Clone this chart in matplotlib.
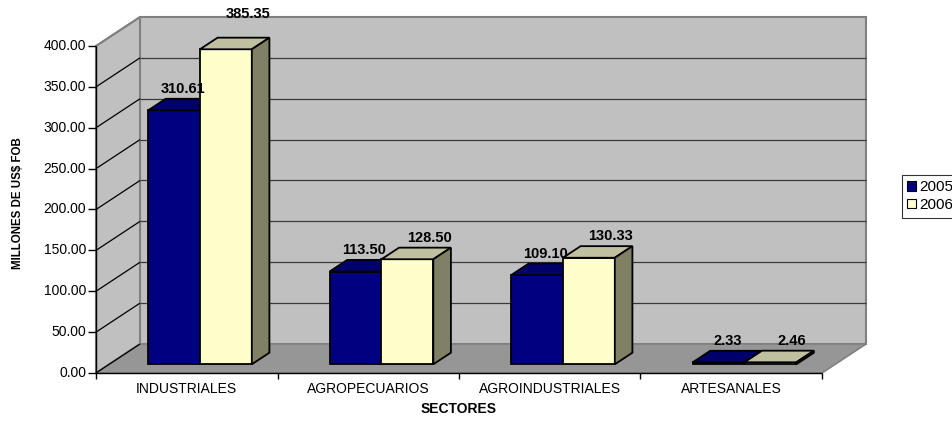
import matplotlib
matplotlib.use('Agg')
import matplotlib.pyplot as plt
from matplotlib.patches import Polygon, Patch
from matplotlib.transforms import IdentityTransform

plt.rcParams['font.family'] = ['Liberation Sans', 'DejaVu Sans']

# ---------------- data ----------------
categories = ['INDUSTRIALES', 'AGROPECUARIOS', 'AGROINDUSTRIALES', 'ARTESANALES']
series_names = ['2005', '2006']
values_2005 = [310.61, 113.50, 109.10, 2.33]
values_2006 = [385.35, 128.50, 130.33, 2.46]
y_ticks = [0, 50, 100, 150, 200, 250, 300, 350, 400]
y_label = 'MILLONES DE US$ FOB'
x_label = 'SECTORES'

# ---------------- style ----------------
W, H = 952, 421
DX, DY = 44, 29            # depth of the 3-D box in pixels
front_colors = ['#000080', '#FFFFCC']
top_colors = ['#00006A', '#C0C0A0']
side_colors = ['#000050', '#808064']
wall_color = '#C0C0C0'
floor_color = '#969696'
bar_w = 0.2857
group_off = 0.2143
d0, d1 = 0.3, 0.7

fig = plt.figure(figsize=(W / 100, H / 100), dpi=100)
ax = fig.add_axes([96 / W, 1 - 373 / H, 726 / W, 327 / H])
ax.set_xlim(0, len(categories))
ax.set_ylim(0, y_ticks[-1])
ax.axis('off')

ID = IdentityTransform()


def P(x, v, d):
    px, py = ax.transData.transform((x, v))
    return (px + d * DX, py + d * DY)


z = [1]


def poly(pts, fc, ec='black', lw=1.0):
    z[0] += 1
    ax.add_patch(Polygon(pts, closed=True, facecolor=fc, edgecolor=ec,
                         linewidth=lw, transform=ID, clip_on=False,
                         zorder=z[0], joinstyle='miter'))


def line(p, q, color, lw):
    z[0] += 1
    ax.plot([p[0], q[0]], [p[1], q[1]], color=color, lw=lw, transform=ID,
            clip_on=False, zorder=z[0], solid_capstyle='butt')


n = len(categories)
top = y_ticks[-1]

# walls and floor
poly([P(0, 0, 1), P(n, 0, 1), P(n, top, 1), P(0, top, 1)], wall_color, '#808080', 1.5)
poly([P(0, 0, 0), P(0, 0, 1), P(0, top, 1), P(0, top, 0)], wall_color, '#808080', 1.5)
poly([P(0, 0, 0), P(n, 0, 0), P(n, 0, 1), P(0, 0, 1)], floor_color, '#808080', 1.2)

# gridlines
for v in y_ticks[1:-1]:
    line(P(0, v, 1), P(n, v, 1), '#3a3a3a', 0.9)
for v in y_ticks[:-1]:
    line(P(0, v, 0), P(0, v, 1), 'black', 0.9)
line(P(0, top, 0), P(0, top, 1), '#808080', 1.2)

# axes lines & ticks
line(P(0, 0, 0), P(0, top, 0), 'black', 1.0)
line(P(0, 0, 0), P(n, 0, 0), 'black', 1.0)
for v in y_ticks:
    px, py = P(0, v, 0)
    line((px - 8, py), (px, py), 'black', 1.0)
    ax.text(px - 10, py, f'{v:.2f}', transform=ID, ha='right', va='center',
            fontsize=10, color='black')
for i in range(n + 1):
    px, py = P(i, 0, 0)
    line((px, py), (px, py - 6), 'black', 1.0)
for i, c in enumerate(categories):
    px, py = P(i + 0.5, 0, 0)
    ax.text(px, py - 16, c, transform=ID, ha='center', va='center',
            fontsize=10, color='black')

# bars
series = [values_2005, values_2006]
label_dx = [0, 13]
label_nudge = {(0, 1): 14}
labels = []
for i in range(n):
    for s, vals in enumerate(series):
        v = vals[i]
        x0 = i + group_off + s * bar_w
        x1 = x0 + bar_w
        poly([P(x0, 0, d0), P(x1, 0, d0), P(x1, v, d0), P(x0, v, d0)], front_colors[s], 'black', 1.3)
        poly([P(x0, v, d0), P(x1, v, d0), P(x1, v, d1), P(x0, v, d1)], top_colors[s], 'black', 1.3)
        poly([P(x1, 0, d0), P(x1, 0, d1), P(x1, v, d1), P(x1, v, d0)], side_colors[s], 'black', 1.3)
        cx, _ = P((x0 + x1) / 2, v, 0.5)
        _, cy = P(x0, v, d1)
        labels.append((cx + label_dx[s], cy + 10 + label_nudge.get((i, s), 0), f'{v:.2f}'))

for cx, cy, t in labels:
    ax.text(cx, cy, t, transform=ID, ha='center', va='center', fontsize=10.5,
            fontweight='bold', color='black', zorder=500)

# axis titles
fig.text(18 / W, 1 - 203 / H, y_label, rotation=90, ha='center', va='center',
         fontsize=8.3, fontweight='bold')
px, py = P(n / 2, 0, 0)
ax.text(px, py - 36, x_label, transform=ID, ha='center', va='center',
        fontsize=10, fontweight='bold')

# legend
handles = [Patch(facecolor=front_colors[k], edgecolor='black', linewidth=0.8)
           for k in range(len(series_names))]
leg = fig.legend(handles, series_names, loc='upper left',
                 bbox_to_anchor=(902 / W, 1 - 175 / H), fontsize=11,
                 frameon=True, fancybox=False, edgecolor='black',
                 handlelength=0.55, handleheight=0.55, handletextpad=0.2,
                 borderpad=0.35, labelspacing=0.25, borderaxespad=0)
leg.get_frame().set_linewidth(0.8)

fig.savefig('out.png', dpi=100)
